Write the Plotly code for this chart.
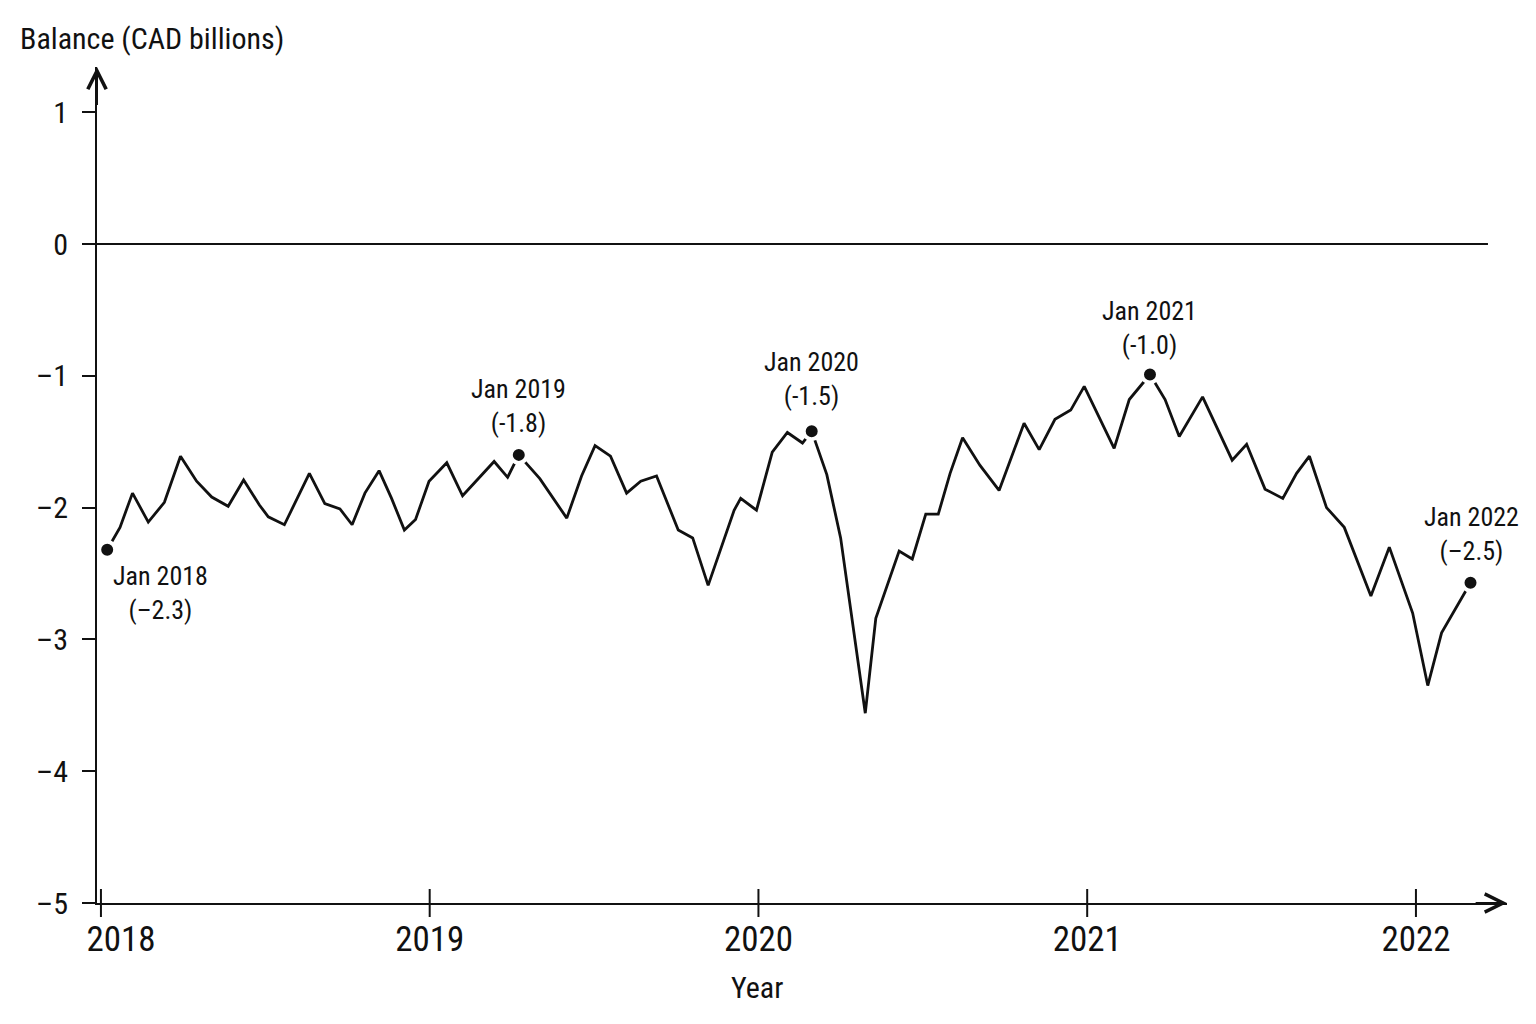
import plotly.graph_objects as go

# monthly-ish balance readings
years = [
    2018.019, 2018.058, 2018.096, 2018.144, 2018.193, 2018.242, 2018.291, 2018.337,
    2018.387, 2018.434, 2018.482, 2018.509, 2018.558, 2018.634, 2018.681, 2018.727,
    2018.764, 2018.803, 2018.846, 2018.884, 2018.923, 2018.957, 2018.998, 2019.052,
    2019.100, 2019.196, 2019.237, 2019.271, 2019.335, 2019.417, 2019.462, 2019.503,
    2019.550, 2019.599, 2019.642, 2019.690, 2019.756, 2019.800, 2019.847, 2019.926,
    2019.946, 2019.994, 2020.042, 2020.088, 2020.134, 2020.162, 2020.208, 2020.250,
    2020.325, 2020.357, 2020.428, 2020.468, 2020.509, 2020.547, 2020.583, 2020.621,
    2020.674, 2020.732, 2020.808, 2020.854, 2020.902, 2020.950, 2020.991, 2021.082,
    2021.128, 2021.191, 2021.237, 2021.280, 2021.351, 2021.441, 2021.485, 2021.541,
    2021.595, 2021.637, 2021.676, 2021.728, 2021.782, 2021.825, 2021.863, 2021.919,
    2021.990, 2022.036, 2022.078, 2022.166,
]
balance = [
    -2.32, -2.15, -1.89, -2.11, -1.96, -1.61, -1.80, -1.92,
    -1.99, -1.79, -1.98, -2.07, -2.13, -1.74, -1.97, -2.01,
    -2.13, -1.89, -1.72, -1.93, -2.17, -2.09, -1.80, -1.66,
    -1.91, -1.65, -1.77, -1.60, -1.78, -2.08, -1.76, -1.53,
    -1.61, -1.89, -1.80, -1.76, -2.17, -2.23, -2.59, -2.02,
    -1.93, -2.02, -1.58, -1.43, -1.51, -1.42, -1.75, -2.23,
    -3.56, -2.84, -2.33, -2.39, -2.05, -2.05, -1.74, -1.47,
    -1.68, -1.87, -1.36, -1.56, -1.33, -1.26, -1.08, -1.55,
    -1.18, -0.99, -1.18, -1.46, -1.16, -1.64, -1.52, -1.86,
    -1.93, -1.74, -1.61, -2.00, -2.15, -2.43, -2.67, -2.30,
    -2.80, -3.35, -2.95, -2.57,
]

tick_years = [2018, 2019, 2020, 2021, 2022]
tick_year_text = ["\u00a0\u00a0\u00a0\u00a0\u00a02018", "2019", "2020", "2021", "2022"]
y_ticks = [1, 0, -1, -2, -3, -4, -5]
y_tick_text = ["1", "0", "–1", "–2", "–3", "–4", "–5"]

callout_idx = [0, 27, 45, 65, 83]
callout_month = ["Jan 2018", "Jan 2019", "Jan 2020", "Jan 2021", "Jan 2022"]
callout_value = ["(–2.3)", "(-1.8)", "(-1.5)", "(-1.0)", "(–2.5)"]

FONT = "Roboto Condensed, Liberation Sans Narrow, Arial Narrow, sans-serif"
x_min, x_max = 2017.988, 2022.277
y_min, y_max = -5, 1.343

fig = go.Figure()

fig.add_trace(go.Scatter(
    x=years, y=balance, mode="lines",
    line=dict(color="#111111", width=2.8),
    hoverinfo="x+y",
))

fig.add_trace(go.Scatter(
    x=[years[i] for i in callout_idx],
    y=[balance[i] for i in callout_idx],
    mode="markers",
    marker=dict(size=16, color="#111111", line=dict(color="white", width=4)),
    hoverinfo="skip",
))

# x ticks that cross the axis line
fig.add_trace(go.Scatter(
    x=tick_years, y=[y_min] * len(tick_years), mode="markers",
    marker=dict(symbol="line-ns", size=20, line=dict(color="#111111", width=2)),
    cliponaxis=False, hoverinfo="skip",
))

# callout labels: (xshift, yshift) in px
offsets = [(53, -43), (0, 49), (0, 52), (0, 46), (1, 49)]
for i, month, val, (dx, dy) in zip(callout_idx, callout_month, callout_value, offsets):
    fig.add_annotation(
        x=years[i], y=balance[i], text=f"{month}<br>{val}",
        showarrow=False, xanchor="center", yanchor="middle",
        xshift=dx, yshift=dy,
        font=dict(family=FONT, size=26, color="#111111"),
    )

# arrow heads at the ends of both axes
fig.add_annotation(
    x=x_max, y=y_min, ax=x_max - 0.1, ay=y_min, xref="x", yref="y",
    axref="x", ayref="y", text="", showarrow=True, arrowhead=5,
    arrowsize=1.8, arrowwidth=2, arrowcolor="#111111", standoff=0,
)
fig.add_annotation(
    x=x_min, y=y_max, ax=x_min, ay=y_max - 0.3, xref="x", yref="y",
    axref="x", ayref="y", text="", showarrow=True, arrowhead=5,
    arrowsize=1.8, arrowwidth=2, arrowcolor="#111111", standoff=0,
)

fig.add_annotation(
    x=-0.056, y=1.034, xref="paper", yref="paper", xanchor="left", yanchor="middle",
    text="Balance (CAD billions)", showarrow=False,
    font=dict(family=FONT, size=30, color="#111111"),
)
fig.add_annotation(
    x=0.4684, y=-0.1005, xref="paper", yref="paper", xanchor="center", yanchor="middle",
    text="Year", showarrow=False,
    font=dict(family=FONT, size=30, color="#111111"),
)

fig.add_shape(
    type="line", xref="paper", yref="y", x0=0, x1=0.9865, y0=0, y1=0,
    line=dict(color="#111111", width=2),
)

fig.update_xaxes(
    range=[x_min, x_max], tickvals=tick_years, ticktext=tick_year_text,
    ticks="", showline=True, linecolor="#111111", linewidth=2,
    showgrid=False, zeroline=False, ticklabelstandoff=4,
    tickfont=dict(family=FONT, size=35, color="#111111"),
)
fig.update_yaxes(
    range=[y_min, y_max], tickvals=y_ticks, ticktext=y_tick_text,
    ticks="outside", ticklen=13, tickwidth=2, tickcolor="#111111",
    showline=True, linecolor="#111111", linewidth=2,
    showgrid=False, zeroline=False, ticklabelstandoff=8,
    tickfont=dict(family=FONT, size=30, color="#111111"),
)

# page body keeps an 8px margin, so the figure is 8px smaller than the window
fig.update_layout(
    width=1528, height=1016,
    margin=dict(l=89, r=29, t=59, b=121, pad=0),
    plot_bgcolor="white", paper_bgcolor="white",
    showlegend=False,
)

fig.write_html("out.html")
